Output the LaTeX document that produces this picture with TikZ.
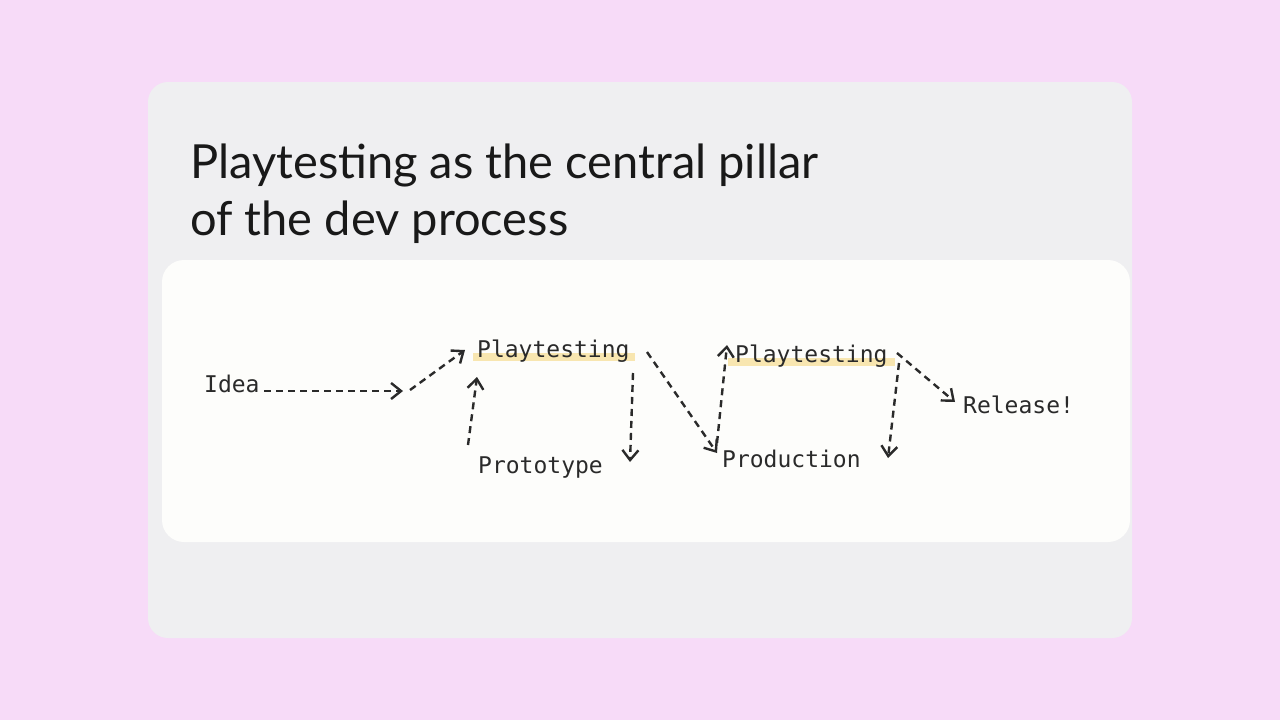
\documentclass[tikz,border=0pt]{standalone}
\usepackage{fontspec}
\setmainfont{Lato}
\newfontfamily\handfont{DejaVu Sans Mono}
\usetikzlibrary{arrows.meta, positioning, calc}
\definecolor{pagepink}{HTML}{F7DBF8}
\definecolor{cardgray}{HTML}{EFEFF1}
\definecolor{boardwhite}{HTML}{FDFDFB}
\definecolor{marker}{HTML}{F8E6B0}
\definecolor{ink}{HTML}{2A2A2A}

\begin{document}
\begin{tikzpicture}[
  x=1pt, y=-1pt,
  word/.style={font=\handfont\fontsize{23}{26}\selectfont, text=ink, inner sep=0pt, anchor=base west},
  heading/.style={font=\fontsize{47}{54}\selectfont, text=black!90, inner sep=0pt, anchor=base west},
  dasharrow/.style={-{Straight Barb[length=10pt, width=16pt, line width=2.4pt]}, line width=2.4pt, ink, dash pattern=on 7pt off 5pt},
  highlight/.style={fill=marker, draw=none}
]
  % page and cards
  \useasboundingbox (0,0) rectangle (1280,720);
  \fill[pagepink] (0,0) rectangle (1280,720);
  \fill[cardgray, rounded corners=20pt] (148,82) rectangle (1132,638);
  \fill[boardwhite, rounded corners=22pt] (162,260) rectangle (1130,542);

  \node[heading] (title1) at (190,178) {Playtesting as the central pillar};
  \node[heading] (title2) at (190,235) {of the dev process};

  % marker under both playtesting steps
  \fill[highlight] (473,353) rectangle (635,361);
  \fill[highlight] (728,358) rectangle (895,366);

  \node[word] (idea) at (204,392) {Idea};
  \node[word] (play1) at (477,357) {Playtesting};
  \node[word] (proto) at (478,473) {Prototype};
  \node[word] (prod) at (722,467) {Production};
  \node[word] (play2) at (735,362) {Playtesting};
  \node[word] (release) at (963,413) {Release!};

  \coordinate (kink) at (403,391);

  \draw[dasharrow] ($(idea.base west)+(60,-1)$) -- (kink);
  \draw[dasharrow] ($(kink)+(7,-1)$) -- ($(play1.base west)+(-12,-7)$);
  \draw[dasharrow] ($(proto.base west)+(-10,-28)$) -- ($(play1.base west)+(0,20)$);
  \draw[dasharrow] ($(play1.base west)+(156,16)$) -- ($(proto.base west)+(152,-11)$);
  \draw[dasharrow] ($(play1.base west)+(170,-5)$) -- ($(prod.base west)+(-5,-14)$);
  \draw[dasharrow] ($(prod.base west)+(-5,-24)$) -- ($(play2.base west)+(-8,-17)$);
  \draw[dasharrow] ($(play2.base west)+(164,1)$) -- ($(prod.base west)+(166,-9)$);
  \draw[dasharrow] ($(play2.base west)+(162,-9)$) -- ($(release.base west)+(-8,-11)$);
\end{tikzpicture}
\end{document}
